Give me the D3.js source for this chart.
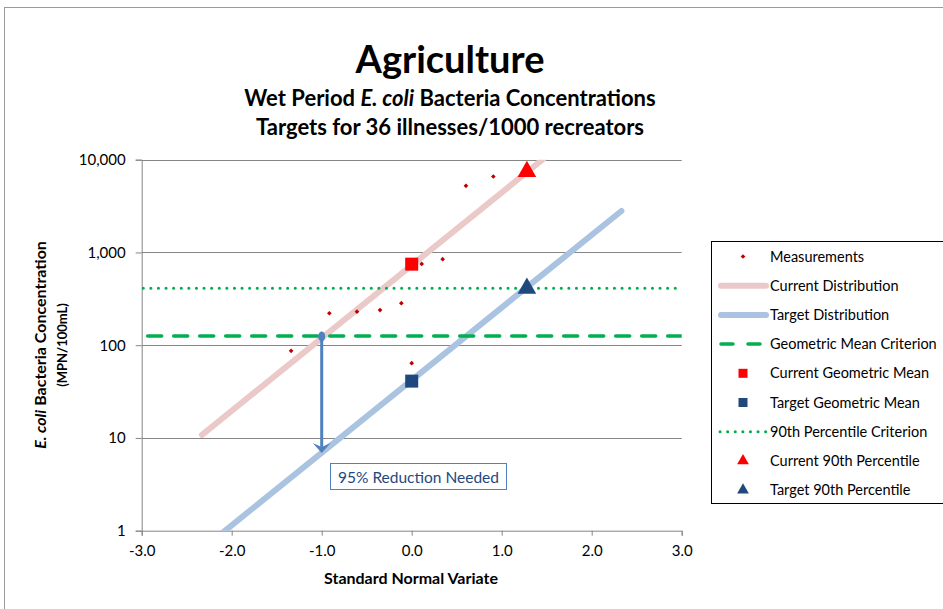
<!DOCTYPE html>
<meta charset="utf-8">
<style>
body { margin: 0; background: #fff; }
text { font-family: Lato, "Open Sans", sans-serif; fill: #000; }
.grid line { stroke: #868686; stroke-width: 1; }
.axis path, .axis line { stroke: #868686; }
.axis text { font-size: 15px; fill: #000; font-family: Lato, sans-serif; }
.legend text { font-size: 14.5px; }
</style>
<svg width="943" height="609"></svg>
<script src="https://d3js.org/d3.v7.min.js"></script>
<script>

// measurements (standard normal variate, MPN/100mL)
var measZ = [-1.34, -0.915, -0.608, -0.352, -0.115, 0.0, 0.111, 0.344, 0.603, 0.907];
var measC = [87, 221, 230, 239, 284, 64, 753, 847, 5230, 6590];

// fitted distributions (end points)
var currentZ = [-2.33, 2.33], currentC = [10.8, 49000];
var targetZ = [-2.33, 2.33], targetC = [0.63, 2800];

// criteria
var gmCriterion = 126, stvCriterion = 410;

// summary points
var currentGM = [0, 748], targetGM = [0, 41];
var current90 = [1.28, 7460], target90 = [1.28, 410];

// reduction arrow
var arrowZ = -1, arrowFrom = 124, arrowTo = 6.9;

var xTicks = [-3, -2, -1, 0, 1, 2, 3];
var yTicks = [1, 10, 100, 1000, 10000];

var legendLabels = ["Measurements", "Current Distribution", "Target Distribution",
  "Geometric Mean Criterion", "Current Geometric Mean", "Target Geometric Mean",
  "90th Percentile Criterion", "Current 90th Percentile", "Target 90th Percentile"];

var svg = d3.select("svg");

var pLeft = 141.7, pRight = 681.7, pTop = 159.7, pBottom = 530.7;

var x = d3.scaleLinear().domain([-3, 3]).range([pLeft, pRight]);
var y = d3.scaleLog().domain([1, 10000]).range([pBottom, pTop]);

var red = "#ff0000", navy = "#1f497d", green = "#00b050",
    pink = "#ebc9c9", lightBlue = "#a9c3e1", darkRed = "#c00000", arrowBlue = "#4f81bd";

// outer chart border
svg.append("rect")
  .attr("x", 4.5).attr("y", 7.5)
  .attr("width", 960).attr("height", 620)
  .attr("fill", "none")
  .attr("stroke", "#9a9a9a");

// titles
svg.append("text")
  .attr("x", 450).attr("y", 73)
  .attr("text-anchor", "middle")
  .attr("font-size", "38px")
  .attr("font-weight", "bold")
  .text("Agriculture");

var sub = svg.append("text")
  .attr("x", 450).attr("y", 106)
  .attr("text-anchor", "middle")
  .attr("font-size", "22px")
  .attr("font-weight", "bold");
sub.append("tspan").text("Wet Period ");
sub.append("tspan").attr("font-style", "italic").text("E. coli");
sub.append("tspan").text(" Bacteria Concentrations");

svg.append("text")
  .attr("x", 450).attr("y", 135)
  .attr("text-anchor", "middle")
  .attr("font-size", "22px")
  .attr("font-weight", "bold")
  .text("Targets for 36 illnesses/1000 recreators");

// gridlines
svg.append("g")
  .attr("class", "grid")
  .selectAll("line")
  .data(yTicks.slice(1))
  .enter().append("line")
    .attr("x1", pLeft).attr("x2", pRight)
    .attr("y1", function(d) { return Math.round(y(d)) + 0.5; })
    .attr("y2", function(d) { return Math.round(y(d)) + 0.5; });

// axes
svg.append("g")
  .attr("class", "axis")
  .attr("transform", "translate(" + pLeft + ",0)")
  .call(d3.axisLeft(y).tickValues(yTicks).tickSize(6).tickPadding(10)
    .tickFormat(d3.format(",")));

svg.append("g")
  .attr("class", "axis")
  .attr("transform", "translate(0," + pBottom + ")")
  .call(d3.axisBottom(x).tickValues(xTicks).tickSize(5).tickPadding(10)
    .tickFormat(function(d) { return d.toFixed(1); }));

// axis titles
svg.append("text")
  .attr("x", 411).attr("y", 584)
  .attr("text-anchor", "middle")
  .attr("font-size", "16px")
  .attr("font-weight", "bold")
  .text("Standard Normal Variate");

var yt = svg.append("text")
  .attr("transform", "translate(46,345) rotate(-90)")
  .attr("text-anchor", "middle")
  .attr("font-size", "16px")
  .attr("font-weight", "bold");
yt.append("tspan").attr("font-style", "italic").text("E. coli");
yt.append("tspan").text(" Bacteria Concentration");

svg.append("text")
  .attr("transform", "translate(67,345) rotate(-90)")
  .attr("text-anchor", "middle")
  .attr("font-size", "13px")
  .attr("font-weight", "bold")
  .text("(MPN/100mL)");

// clip to plot area
svg.append("clipPath").attr("id", "plot")
  .append("rect")
  .attr("x", pLeft).attr("y", pTop)
  .attr("width", pRight - pLeft).attr("height", pBottom - pTop);

var plot = svg.append("g").attr("clip-path", "url(#plot)");

var line = d3.line()
  .x(function(d) { return x(d[0]); })
  .y(function(d) { return y(d[1]); });

plot.append("path")
  .datum(d3.zip(currentZ, currentC))
  .attr("d", line)
  .attr("fill", "none")
  .attr("stroke", pink)
  .attr("stroke-width", 6)
  .attr("stroke-linecap", "round");

plot.append("path")
  .datum(d3.zip(targetZ, targetC))
  .attr("d", line)
  .attr("fill", "none")
  .attr("stroke", lightBlue)
  .attr("stroke-width", 6)
  .attr("stroke-linecap", "round");

// criteria lines
plot.append("line")
  .attr("x1", x(-3)).attr("x2", x(3))
  .attr("y1", y(gmCriterion)).attr("y2", y(gmCriterion))
  .attr("stroke", green)
  .attr("stroke-width", 3.5)
  .attr("stroke-dasharray", "14,12")
  .attr("stroke-dashoffset", -6)
  .attr("stroke-linecap", "round");

plot.append("line")
  .attr("x1", x(-3) + 1.5).attr("x2", x(3))
  .attr("y1", y(stvCriterion)).attr("y2", y(stvCriterion))
  .attr("stroke", green)
  .attr("stroke-width", 3)
  .attr("stroke-dasharray", "0.1,7.5")
  .attr("stroke-linecap", "round");

// measurements: small square diamonds
var diamond = d3.symbol().type(d3.symbolSquare).size(11);
svg.append("g")
  .selectAll("path")
  .data(d3.zip(measZ, measC))
  .enter().append("path")
    .attr("d", diamond)
    .attr("transform", function(d) { return "translate(" + x(d[0]) + "," + y(d[1]) + ") rotate(45)"; })
    .attr("fill", darkRed);

// geometric means (squares)
svg.append("rect")
  .attr("x", x(currentGM[0]) - 6.5).attr("y", y(currentGM[1]) - 6.5)
  .attr("width", 13).attr("height", 13)
  .attr("fill", red);

svg.append("rect")
  .attr("x", x(targetGM[0]) - 6.5).attr("y", y(targetGM[1]) - 6.5)
  .attr("width", 13).attr("height", 13)
  .attr("fill", navy);

// 90th percentiles (triangles)
var tri = d3.symbol().type(d3.symbolTriangle).size(150);
svg.append("path")
  .attr("d", tri)
  .attr("transform", "translate(" + x(current90[0]) + "," + y(current90[1]) + ")")
  .attr("fill", red);
svg.append("path")
  .attr("d", tri)
  .attr("transform", "translate(" + x(target90[0]) + "," + y(target90[1]) + ")")
  .attr("fill", navy);

// reduction arrow
var ax = x(arrowZ), ay1 = y(arrowFrom), ay2 = y(arrowTo);
svg.append("line")
  .attr("x1", ax).attr("x2", ax)
  .attr("y1", ay1).attr("y2", ay2 - 6)
  .attr("stroke", arrowBlue)
  .attr("stroke-width", 3);
svg.append("ellipse")
  .attr("cx", ax).attr("cy", ay1)
  .attr("rx", 3.5).attr("ry", 5)
  .attr("fill", arrowBlue);
svg.append("path")
  .attr("d", "M" + ax + "," + ay2 + "L" + (ax - 9) + "," + (ay2 - 10) +
    "L" + ax + "," + (ay2 - 6) + "L" + (ax + 9) + "," + (ay2 - 10) + "Z")
  .attr("fill", arrowBlue);

// annotation box
svg.append("rect")
  .attr("x", 330.5).attr("y", 463.5)
  .attr("width", 176).attr("height", 26)
  .attr("fill", "#fff")
  .attr("stroke", arrowBlue);
svg.append("text")
  .attr("x", 418.5).attr("y", 482.5)
  .attr("text-anchor", "middle")
  .attr("font-size", "15.5px")
  .style("fill", navy)
  .text("95% Reduction Needed");

// legend
var lg = svg.append("g").attr("class", "legend");
lg.append("rect")
  .attr("x", 711.5).attr("y", 241.5)
  .attr("width", 240).attr("height", 262)
  .attr("fill", "#fff")
  .attr("stroke", "#000");

var ly = function(i) { return 256.5 + i * 29.2; };
var sx = 743;

lg.selectAll("text")
  .data(legendLabels)
  .enter().append("text")
    .attr("x", 770)
    .attr("y", function(d, i) { return ly(i) + 5; })
    .text(function(d) { return d; });

lg.append("path").attr("d", diamond)
  .attr("transform", "translate(" + sx + "," + ly(0) + ") rotate(45)").attr("fill", darkRed);
lg.append("line").attr("x1", 721).attr("x2", 766).attr("y1", ly(1)).attr("y2", ly(1))
  .attr("stroke", pink).attr("stroke-width", 6).attr("stroke-linecap", "round");
lg.append("line").attr("x1", 721).attr("x2", 766).attr("y1", ly(2)).attr("y2", ly(2))
  .attr("stroke", lightBlue).attr("stroke-width", 6).attr("stroke-linecap", "round");
lg.append("line").attr("x1", 721).attr("x2", 766).attr("y1", ly(3)).attr("y2", ly(3))
  .attr("stroke", green).attr("stroke-width", 3.5).attr("stroke-dasharray", "12,15")
  .attr("stroke-linecap", "round");
lg.append("rect").attr("x", sx - 4.5).attr("y", ly(4) - 4.5).attr("width", 9).attr("height", 9)
  .attr("fill", red);
lg.append("rect").attr("x", sx - 4.5).attr("y", ly(5) - 4.5).attr("width", 9).attr("height", 9)
  .attr("fill", navy);
lg.append("line").attr("x1", 720).attr("x2", 767).attr("y1", ly(6)).attr("y2", ly(6))
  .attr("stroke", green).attr("stroke-width", 3).attr("stroke-dasharray", "0.1,7.5")
  .attr("stroke-linecap", "round");
var smallTri = d3.symbol().type(d3.symbolTriangle).size(60);
lg.append("path").attr("d", smallTri)
  .attr("transform", "translate(" + sx + "," + ly(7) + ")").attr("fill", red);
lg.append("path").attr("d", smallTri)
  .attr("transform", "translate(" + sx + "," + ly(8) + ")").attr("fill", navy);

</script>
